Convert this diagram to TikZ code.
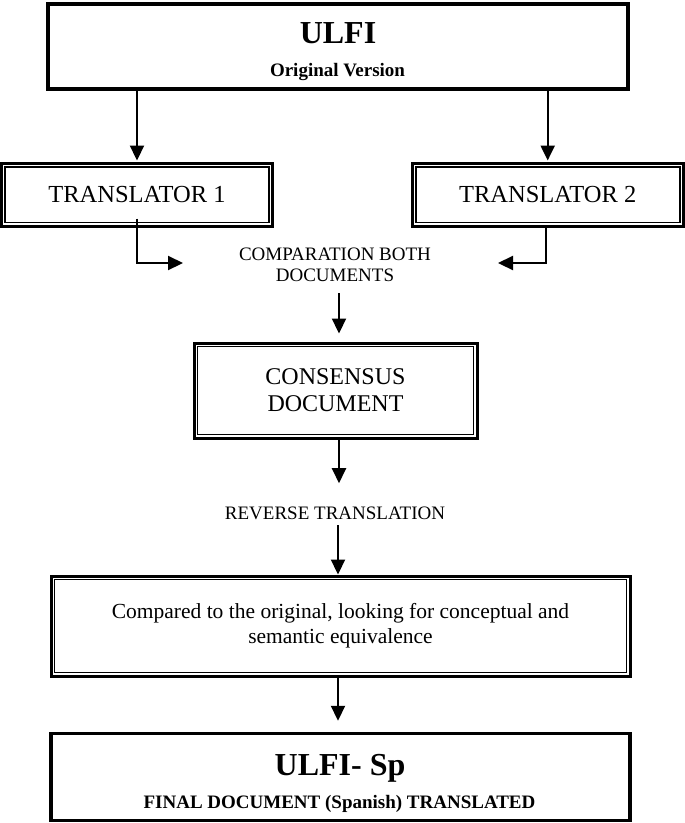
\documentclass[tikz,border=0pt]{standalone}
\usepackage{fontspec}
\setmainfont{Liberation Serif}
\usetikzlibrary{arrows.meta}
\begin{document}
\begin{tikzpicture}[x=1pt,y=-1pt,
  bigbox/.style={draw, line width=3.5pt, inner sep=0pt},
  dbox/.style={draw, line width=3pt, inner sep=0pt, align=center},
  innerline/.style={line width=1.8pt},
  arr/.style={line width=2.2pt, -{Triangle[width=14pt,length=15pt]}},
  fbig/.style={font=\fontsize{32}{36}\selectfont\bfseries},
  fsub/.style={font=\fontsize{19}{22}\selectfont\bfseries},
  ffin/.style={font=\fontsize{19}{22}\selectfont\bfseries},
  ftr/.style={font=\fontsize{24.5}{28}\selectfont},
  fcomp/.style={font=\fontsize{19}{21.3}\selectfont},
  fcons/.style={font=\fontsize{24}{27}\selectfont},
  frev/.style={font=\fontsize{19}{22}\selectfont},
  fcmp/.style={font=\fontsize{21.5}{25}\selectfont}]
\useasboundingbox (0,0) rectangle (685,823);

% top box
\node[bigbox, minimum width=580pt, minimum height=85pt] (top) at (338,46.5) {};
\node[fbig, anchor=base, inner sep=0pt] (topT) at (338,43.5) {ULFI};
\node[fsub, anchor=base, inner sep=0pt] (topS) at (337.5,76) {Original Version};

% translators
\node[dbox, ftr, minimum width=271pt, minimum height=62.5pt] (t1) at (137,194.75) {TRANSLATOR 1};
\node[dbox, ftr, minimum width=271pt, minimum height=62.5pt] (t2) at (547.7,194.75) {TRANSLATOR 2};

% comparation label
\node[fcomp, align=center, inner sep=0pt] (comp) at (335,265) {COMPARATION BOTH\\DOCUMENTS};

% consensus
\node[dbox, fcons, minimum width=283pt, minimum height=95pt] (cons) at (335.5,390.5) {CONSENSUS\\DOCUMENT};

% reverse translation
\node[frev, anchor=base, inner sep=0pt] (rev) at (335,519) {REVERSE TRANSLATION};

% compared box
\node[dbox, fcmp, minimum width=579pt, minimum height=100pt] (cmp) at (340.5,626) {Compared to the original, looking for conceptual and\\semantic equivalence};

% final box
\node[bigbox, minimum width=579pt, minimum height=87pt] (fin) at (340.5,777) {};
\node[fbig, anchor=base, inner sep=0pt] (finT) at (340,775) {ULFI- Sp};
\node[ffin, anchor=base, inner sep=0pt] (finS) at (339.5,808) {FINAL DOCUMENT (Spanish) TRANSLATED};

% inner lines of double boxes
\foreach \n in {t1,t2,cons,cmp}
  \draw[innerline] ([xshift=5pt,yshift=-5pt]\n.north west) rectangle ([xshift=-5pt,yshift=5pt]\n.south east);

% connectors
\draw[arr] (top.south -| t1.north) -- ([yshift=1.5pt]t1.north);
\draw[arr] (top.south -| t2.north) -- ([yshift=1.5pt]t2.north);
\draw[arr] ([yshift=9pt]t1.south) |- ([xshift=-152pt,yshift=2pt]comp.center);
\draw[arr] ([xshift=-1.5pt]t2.south) |- ([xshift=163pt,yshift=2pt]comp.center);
\draw[arr] ([xshift=4pt,yshift=-11pt]comp.south) -- ([xshift=3.5pt,yshift=8pt]cons.north);
\draw[arr] ([xshift=3.5pt]cons.south) -- ([xshift=4pt,yshift=23pt]rev.north);
\draw[arr] ([xshift=3pt,yshift=-6pt]rev.south) -- ([xshift=-2.5pt]cmp.north);
\draw[arr] ([xshift=-2.5pt]cmp.south) -- ([xshift=-2.5pt,yshift=11pt]fin.north);
\end{tikzpicture}
\end{document}
